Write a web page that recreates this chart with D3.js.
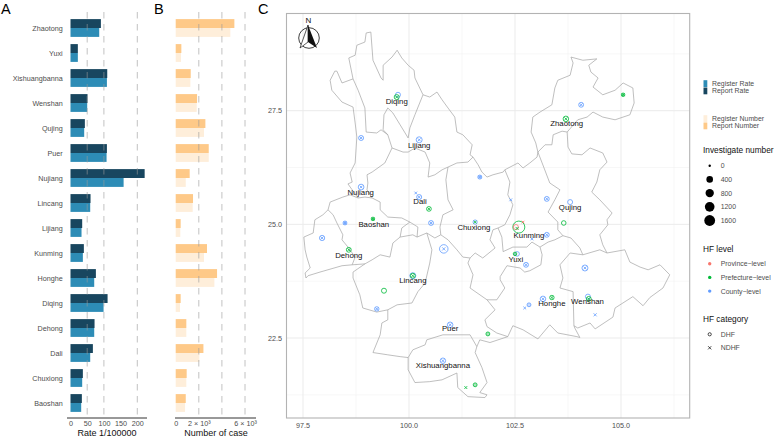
<!DOCTYPE html>
<html><head><meta charset="utf-8">
<script src="https://cdn.jsdelivr.net/npm/d3@7"></script>
<style>
html,body{margin:0;padding:0;background:#fff}
svg{display:block}
text{font-family:"Liberation Sans",Arial,sans-serif}
</style></head><body><svg id="c" width="777" height="440"></svg>
<script>
// ---------- bars ----------
const categories=["Zhaotong","Yuxi","Xishuangbanna","Wenshan","Qujing","Puer","Nujiang","Lincang","Lijiang","Kunming","Honghe","Diqing","Dehong","Dali","Chuxiong","Baoshan"];
const reportRate=[91,22,110,51,43,109,222,60,35,40,76,111,72,67,37,34];
const registerRate=[86,22,109,50,41,108,159,59,33,37,71,99,71,59,35,32];
const reportNumber=[5080,490,1300,1850,2570,2860,1210,1500,430,2710,3580,430,920,2400,950,870];
const registerNumber=[4730,460,1270,1820,2450,2860,870,1470,400,2450,3350,375,920,2050,920,810];
const rateTicks=[0,50,100,150,200];
const rateGuides=[50,100,200];
const numberTicks=[0,2000,6000];
const numberGuides=[2000,4000,6000];
// ---------- map graticule ----------
const lonMajor=[97.5,100,102.5,105];
const lonMinor=[98.75,101.25,103.75,106.25];
const latMajor=[27.5,25,22.5];
const latMinor=[28.75,26.25,23.75,21.25];
// ---------- map boundaries, [lon,lat] ----------
const bNorth=[[98.14,28.17],[98.25,28.37],[98.30,28.37],[98.42,28.11],[98.68,28.20],[98.58,28.66],[98.73,28.72],[98.77,28.94],[98.96,29.01],[98.99,29.21],[99.10,29.23],[99.15,28.61],[99.34,28.22],[99.39,28.17],[99.39,28.50],[99.60,28.68],[99.72,28.83],[99.83,28.66],[99.98,28.50],[100.12,28.39],[100.14,28.22],[100.33,27.85],[100.49,27.80],[100.66,27.91],[100.78,27.74],[100.92,27.56],[101.08,27.36],[101.13,27.03],[101.27,26.97],[101.49,26.75],[101.44,26.53],[101.51,26.48],[101.63,26.31],[101.72,26.15],[101.84,26.04],[101.98,26.09],[102.22,26.15],[102.26,26.20],[102.57,26.35],[102.69,26.24],[102.85,26.35],[103.02,26.48],[103.04,26.59]];
const bZhaotong=[[103.04,26.59],[102.99,26.79],[102.88,27.03],[102.92,27.36],[103.09,27.47],[103.37,27.63],[103.44,28.00],[103.51,28.17],[103.80,28.28],[103.87,28.55],[103.82,28.68],[104.10,28.61],[104.43,28.64],[104.24,28.50],[104.29,28.35],[104.46,28.22],[104.34,28.02],[104.57,27.85],[104.86,27.95],[105.05,28.11],[105.28,28.00],[105.31,27.67],[105.21,27.41],[104.86,27.30],[104.57,27.36],[104.34,27.47],[104.20,27.36],[103.98,27.30],[103.73,27.03],[103.75,26.70],[103.84,26.55],[104.08,26.53],[104.27,26.68],[104.57,26.57],[104.67,26.37],[104.50,26.20],[104.43,25.93],[104.31,25.71],[104.50,25.54],[104.79,25.25],[104.67,25.10],[104.69,24.99],[104.50,24.77],[104.57,24.55],[104.67,24.37]];
const bZhaotongQujing=[[103.04,26.59],[103.21,26.75],[103.37,26.75],[103.40,26.97],[103.61,27.05],[103.73,27.03]];
const bWenshan=[[103.56,24.11],[103.80,24.37],[104.10,24.33],[104.50,24.44],[104.67,24.37],[105.09,24.44],[105.21,24.17],[105.45,24.06],[105.64,24.00],[105.92,24.11],[106.15,23.89],[105.99,23.60],[105.68,23.39],[105.52,23.21],[105.28,23.41],[104.86,23.16],[104.81,22.96],[104.39,22.70],[104.27,22.83],[103.98,22.72],[103.89,22.77],[103.87,23.52],[103.56,23.60],[103.63,23.82],[103.56,24.11]];
const bQujingWest=[[103.04,26.59],[103.14,26.35],[103.32,25.91],[103.56,25.76],[103.44,25.54],[103.28,25.27],[103.51,25.05],[103.51,24.88],[103.63,24.75],[103.82,24.70],[104.03,24.48],[104.10,24.33]];
const bKunmingSouth=[[102.10,24.92],[102.19,24.72],[102.22,24.40],[102.45,24.50],[102.78,24.50],[102.90,24.61],[103.09,24.50],[103.28,24.61],[103.44,24.66],[103.63,24.75]];
const bChuxiongEast=[[102.26,26.20],[102.38,25.93],[102.33,25.65],[102.45,25.43],[102.38,25.21],[102.26,24.99],[102.10,24.92]];
const bChuxiongYuxi=[[102.10,24.92],[101.98,24.88],[101.91,24.66],[102.03,24.48],[101.74,24.26],[101.56,24.37],[101.44,24.26]];
const bChuxiongWest=[[100.92,26.26],[100.87,25.98],[100.92,25.54],[101.04,25.32],[100.80,25.21],[100.73,24.94],[100.75,24.77]];
const bDaliSouth=[[100.02,25.05],[100.21,24.94],[100.19,24.72],[100.42,24.81],[100.61,24.70],[100.75,24.77],[100.92,24.66],[101.13,24.44],[101.27,24.28],[101.44,24.26]];
const bBaoshanSouth=[[100.02,25.05],[99.83,24.92],[99.79,24.72],[99.62,24.59],[99.55,24.28],[99.32,24.33],[99.13,24.22],[98.96,24.13],[98.66,24.11],[98.42,24.09],[97.90,23.95],[97.62,23.87],[97.57,23.82],[97.55,23.93],[97.67,24.04],[97.59,24.28],[97.55,24.44],[97.52,24.72],[97.74,24.81],[97.78,25.10],[97.97,25.21],[98.09,25.32]];
const bDehongEast=[[98.09,25.32],[98.21,25.21],[98.30,25.03],[98.44,24.77],[98.42,24.66],[98.56,24.50],[98.73,24.28],[98.66,24.11]];
const bBaoshanNorth=[[98.09,25.32],[98.14,25.49],[98.44,25.60],[98.61,25.65],[98.80,25.58],[98.96,25.60],[99.13,25.58],[99.32,25.49],[99.32,25.32],[99.50,25.16],[99.83,25.14],[100.02,25.05]];
const bLincangTop=[[99.79,24.72],[100.09,24.77],[100.19,24.72]];
const bLincangRest=[[100.42,24.81],[100.54,24.44],[100.49,24.15],[100.38,23.71],[100.21,23.52],[100.07,23.27],[99.72,23.23],[99.50,23.12],[99.24,23.07],[98.91,23.16],[98.84,23.45],[98.68,23.82],[98.68,23.95],[98.96,24.13]];
const bNujiangWest=[[98.14,28.17],[98.18,27.95],[98.42,27.69],[98.68,27.58],[98.73,27.23],[98.77,26.92],[98.73,26.35],[98.61,26.13],[98.66,25.93],[98.56,25.89],[98.66,25.76],[98.80,25.58]];
const bNujiangEast=[[99.60,26.68],[99.43,26.35],[99.13,26.15],[99.01,26.09],[99.03,25.91],[99.01,25.76],[99.13,25.58]];
const bDiqingWest=[[98.68,28.20],[98.80,27.95],[98.96,27.56],[98.99,27.03],[99.24,27.01],[99.34,27.08],[99.50,26.97],[99.60,26.68]];
const bLijiangWest=[[100.33,27.85],[100.14,27.41],[100.02,27.12],[99.98,26.90],[99.79,27.19],[99.62,27.45],[99.50,27.56],[99.41,27.41],[99.39,27.08],[99.50,26.97]];
const bDaliNorth=[[99.60,26.68],[99.86,26.59],[99.98,26.59],[100.14,26.68],[100.38,26.59],[100.49,26.35],[100.45,26.04],[100.61,26.09],[100.78,26.20],[100.92,26.26],[101.13,26.35],[101.39,26.37],[101.51,26.48]];
const bYuxiSouth=[[101.44,24.26],[101.39,24.15],[101.51,23.89],[101.44,23.60],[101.84,23.34],[102.07,23.34],[102.26,23.60],[102.15,23.78],[102.15,23.85],[102.31,24.09],[102.62,24.04],[102.73,23.95],[102.85,23.98],[103.11,24.11],[103.14,24.33],[103.09,24.50]];
const bHongheSouth=[[101.84,23.34],[102.03,23.12],[101.79,22.90],[101.84,22.75],[102.07,22.61],[102.33,22.53],[102.45,22.77],[102.69,22.68],[103.04,22.48],[103.32,22.79],[103.51,22.61],[103.96,22.53],[104.03,22.51],[103.91,22.72],[103.89,22.77]];
const bBanna=[[102.33,22.53],[101.91,22.40],[101.67,22.46],[101.60,22.31],[101.44,22.57],[100.80,22.57],[100.42,22.46],[100.38,22.35],[100.09,22.24],[99.98,22.07],[99.98,21.80],[100.14,21.52],[100.49,21.54],[100.78,21.58],[101.13,21.73],[101.15,21.41],[101.39,21.21],[101.79,21.19],[101.84,21.25],[101.67,21.30],[101.84,21.52],[101.72,21.85],[101.56,22.18],[101.60,22.31]];
const bPuerWest=[[99.50,23.12],[99.50,22.90],[99.36,22.83],[99.32,22.57],[99.15,22.18],[99.50,22.13],[99.79,22.09],[99.98,22.07]];
const boundaries=[bNorth,bZhaotong,bZhaotongQujing,bWenshan,bQujingWest,bKunmingSouth,bChuxiongEast,bChuxiongYuxi,bChuxiongWest,bDaliSouth,bBaoshanSouth,bDehongEast,bBaoshanNorth,bLincangTop,bLincangRest,bNujiangWest,bNujiangEast,bDiqingWest,bLijiangWest,bDaliNorth,bYuxiSouth,bHongheSouth,bBanna,bPuerWest];
// ---------- city labels ----------
const cityNames=["Diqing","Lijiang","Nujiang","Dali","Baoshan","Dehong","Lincang","Chuxiong","Kunming","Yuxi","Qujing","Zhaotong","Honghe","Wenshan","Puer","Xishuangbanna"];
const cityLon=[99.71,100.24,98.86,100.26,99.17,98.58,100.09,101.53,102.83,102.52,103.80,103.72,103.37,104.21,100.97,100.80];
const cityLat=[27.71,26.75,25.71,25.50,25.01,24.33,23.78,24.94,24.77,24.24,25.38,27.23,23.26,23.30,22.72,21.91];
// ---------- hospitals: lon, lat, investigate number, level, category ----------
const P="Province",F="Prefecture",C="County";
const sites=[
[99.74,27.85,80,C,"DHF"],[99.71,27.80,80,F,"DHF"],[99.71,27.80,10,F,"NDHF"],
[98.87,26.90,80,C,"DHF"],[98.87,26.90,20,C,"NDHF"],
[100.24,26.86,180,C,"DHF"],[100.24,26.86,20,C,"NDHF"],
[101.67,26.04,20,C,"DHF"],[101.67,26.04,5,C,"NDHF"],
[98.87,25.82,150,C,"DHF"],[98.87,25.82,10,C,"NDHF"],
[100.16,25.69,10,C,"NDHF"],[100.24,25.60,80,C,"DHF"],[100.24,25.60,10,C,"NDHF"],
[100.47,25.34,60,F,"DHF"],[100.47,25.34,10,F,"NDHF"],
[102.40,25.54,15,C,"NDHF"],[99.15,25.12,5,F,"DHF"],[99.15,25.12,10,F,"NDHF"],
[98.49,25.03,15,C,"DHF"],[98.49,25.03,5,C,"NDHF"],
[100.52,25.03,70,C,"DHF"],[100.52,25.03,25,C,"NDHF"],
[97.95,24.70,100,C,"DHF"],[97.95,24.70,30,C,"NDHF"],
[98.58,24.44,70,F,"DHF"],[98.58,24.44,10,F,"NDHF"],
[100.82,24.46,600,C,"DHF"],[100.82,24.46,40,C,"NDHF"],
[100.09,23.87,180,C,"DHF"],[100.09,23.87,70,F,"DHF"],[100.09,23.87,20,F,"NDHF"],
[99.41,23.54,80,F,"DHF"],[99.24,23.14,40,C,"DHF"],[99.24,23.14,20,C,"NDHF"],
[100.97,22.79,130,C,"DHF"],[100.97,22.79,20,C,"NDHF"],
[101.86,22.59,15,F,"DHF"],[100.80,22.00,120,C,"DHF"],[100.80,22.00,20,C,"NDHF"],
[101.56,21.47,15,F,"DHF"],[101.34,21.41,20,F,"NDHF"],
[101.56,25.05,30,C,"DHF"],[101.56,25.05,10,F,"NDHF"],
[102.59,24.94,1600,F,"DHF"],[102.52,24.94,90,P,"DHF"],[102.55,24.91,20,F,"NDHF"],[102.69,25.05,10,P,"NDHF"],
[103.25,25.56,70,C,"DHF"],[103.25,25.56,20,C,"NDHF"],[103.80,25.49,80,C,"DHF"],
[103.65,25.03,50,F,"DHF"],[103.25,24.77,70,C,"DHF"],[103.25,24.77,25,C,"NDHF"],[102.90,24.68,15,C,"NDHF"],
[102.55,24.35,50,C,"DHF"],[102.50,24.35,5,F,"DHF"],[102.76,24.11,70,C,"DHF"],[102.76,24.11,25,C,"NDHF"],
[104.15,24.04,180,C,"DHF"],[104.15,24.04,30,C,"NDHF"],[104.06,27.63,70,C,"DHF"],[104.06,27.63,25,C,"NDHF"],
[103.70,27.32,130,F,"DHF"],[103.70,27.32,30,F,"NDHF"],[105.05,27.85,5,F,"DHF"],[105.05,27.85,10,F,"NDHF"],
[103.16,23.36,130,C,"DHF"],[103.16,23.36,30,C,"NDHF"],[103.37,23.39,40,F,"DHF"],[103.37,23.39,15,F,"NDHF"],
[102.83,23.23,15,C,"DHF"],[102.73,23.16,15,C,"NDHF"],[104.22,23.41,80,C,"DHF"],
[104.24,23.36,70,F,"DHF"],[104.24,23.36,15,F,"NDHF"],[104.39,23.01,30,C,"NDHF"]
];
// ---------- legend ----------
const sizeBreaks=[0,400,800,1200,1600];
const levelNames=["Province\u2212level","Prefecture\u2212level","County\u2212level"];
const categoryNames=["DHF","NDHF"];

// ---------- drawing ----------
const svg=d3.select("#c");
const DARK="#18465f",BLUE="#2d8cb6",ORANGE="#fec988",CREAM="#feeeda",GUIDE="#9a9a9a",TXT="#4d4d4d";
const levelColor=d3.scaleOrdinal().domain([P,F,C]).range(["#F8766D","#00BA38","#619CFF"]);
const rScale=d3.scaleSqrt().domain([0,1600]).range([1.5,6]);

const yBand=d3.scalePoint().domain(categories).range([28,403]);
const barH=8.9;

function barPanel(x,top,bottom,c1,c2,ticks,guides,fmt,axisRange,title,titleX,showCats){
  const g=svg.append("g");
  categories.forEach((cat,i)=>{
    g.append("rect").attr("x",x(0)).attr("y",yBand(cat)-barH).attr("width",x(top[i])-x(0)).attr("height",barH).attr("fill",c1);
    g.append("rect").attr("x",x(0)).attr("y",yBand(cat)).attr("width",x(bottom[i])-x(0)).attr("height",barH).attr("fill",c2);
  });
  guides.forEach(v=>g.append("line").attr("x1",x(v)).attr("x2",x(v)).attr("y1",12).attr("y2",418)
    .attr("stroke",GUIDE).attr("stroke-opacity",.6).attr("stroke-width",1).attr("stroke-dasharray","6.5 5.5"));
  const ax=g.append("g").attr("transform","translate(0,418)").call(d3.axisBottom(x).tickValues(ticks).tickSize(0).tickPadding(3).tickFormat(fmt));
  ax.select(".domain").remove();
  g.append("line").attr("x1",axisRange[0]).attr("x2",axisRange[1]).attr("y1",418).attr("y2",418).attr("stroke","#333").attr("stroke-width",1);
  ax.selectAll("text").attr("fill",TXT).style("font-size","7.2px");
  g.append("text").attr("x",titleX).attr("y",436).attr("text-anchor","middle").style("font-size","9px").attr("fill","#111").text(title);
  if(showCats) categories.forEach(cat=>g.append("text").attr("x",62.7).attr("y",yBand(cat)+2.6).attr("text-anchor","end").style("font-size","7.2px").attr("fill",TXT).text(cat));
}
const xRate=d3.scaleLinear().domain([0,200]).range([70.5,137.3]);
const xNum=d3.scaleLinear().domain([0,6000]).range([175.7,245]);
barPanel(xRate,reportRate,registerRate,DARK,BLUE,rateTicks,rateGuides,d=>d,[67,147],"Rate 1/100000",107,true);
barPanel(xNum,reportNumber,registerNumber,ORANGE,CREAM,numberTicks,numberGuides,d=>d===0?"0":(d/1000)+" \u00d7 10\u00b3",[175,256],"Number of case",216,false);

[["A",1],["B",154],["C",258]].forEach(([t,x])=>svg.append("text").attr("x",x).attr("y",14).style("font-size","14.5px").attr("fill","#000").text(t));

// map panel
const lon=d3.scaleLinear().domain([97.5,105]).range([303,621]);
const lat=d3.scaleLinear().domain([27.5,22.5]).range([110.7,338]);
const L=286.5,R=689.7,T=13.5,B=418;
const map=svg.append("g");
lonMinor.forEach(v=>map.append("line").attr("x1",lon(v)).attr("x2",lon(v)).attr("y1",T).attr("y2",B).attr("stroke","#f2f2f2").attr("stroke-width",.6));
latMinor.forEach(v=>map.append("line").attr("y1",lat(v)).attr("y2",lat(v)).attr("x1",L).attr("x2",R).attr("stroke","#f2f2f2").attr("stroke-width",.6));
lonMajor.forEach(v=>map.append("line").attr("x1",lon(v)).attr("x2",lon(v)).attr("y1",T).attr("y2",B).attr("stroke","#ebebeb").attr("stroke-width",1));
latMajor.forEach(v=>map.append("line").attr("y1",lat(v)).attr("y2",lat(v)).attr("x1",L).attr("x2",R).attr("stroke","#ebebeb").attr("stroke-width",1));
const geoLine=d3.line().x(d=>lon(d[0])).y(d=>lat(d[1])).curve(d3.curveLinear);
map.selectAll("path.b").data(boundaries).join("path").attr("class","b").attr("d",geoLine).attr("fill","none").attr("stroke","#a3a3a3").attr("stroke-width",.7).attr("stroke-linejoin","round");

function crossPath(r){return `M${-r},${-r}L${r},${r}M${-r},${r}L${r},${-r}`;}
sites.forEach(s=>{
  const c=levelColor(s[3]),g=map.append("g").attr("transform",`translate(${lon(s[0])},${lat(s[1])})`);
  if(s[4]==="DHF") g.append("circle").attr("r",rScale(s[2])).attr("fill",s[2]<25?c:"none").attr("fill-opacity",.35).attr("stroke",c).attr("stroke-width",.8);
  else g.append("path").attr("d",crossPath(rScale(s[2])*.72)).attr("stroke",c).attr("stroke-width",.8).attr("fill","none");
});
cityNames.forEach((n,i)=>map.append("text").attr("x",lon(cityLon[i])).attr("y",lat(cityLat[i])+2.8).attr("text-anchor","middle").style("font-size","7.8px").attr("fill","#111").text(n));
map.append("rect").attr("x",L).attr("y",T).attr("width",R-L).attr("height",B-T).attr("fill","none").attr("stroke","#b3b3b3").attr("stroke-width",1.1);
lonMajor.forEach(v=>map.append("text").attr("x",lon(v)).attr("y",427.5).attr("text-anchor","middle").style("font-size","7.2px").attr("fill",TXT).text(v.toFixed(1)));
latMajor.forEach(v=>map.append("text").attr("x",282).attr("y",lat(v)+2.6).attr("text-anchor","end").style("font-size","7.2px").attr("fill",TXT).text(v.toFixed(1)));

// north arrow
const na=svg.append("g").attr("transform","translate(309,38)");
na.append("circle").attr("r",10.3).attr("fill","none").attr("stroke","#111").attr("stroke-width",.8);
na.append("path").attr("d","M-1,-13L-9,10L-1,4Z").attr("fill","#fff").attr("stroke","#111").attr("stroke-width",.7);
na.append("path").attr("d","M-1,-13L8,10L-1,4Z").attr("fill","#111");
svg.append("text").attr("x",308.5).attr("y",23).attr("text-anchor","middle").style("font-size","8px").attr("fill","#111").text("N");

// legends
const lg=svg.append("g");
function swatch(y,c,t){
  lg.append("rect").attr("x",703.5).attr("y",y-3.4).attr("width",3.8).attr("height",6.8).attr("fill",c);
  lg.append("text").attr("x",712).attr("y",y+2.4).style("font-size","6.9px").attr("fill",TXT).text(t);
}
swatch(83.6,BLUE,"Register Rate");swatch(90.9,DARK,"Report Rate");
swatch(118.6,CREAM,"Register Number");swatch(125.9,ORANGE,"Report Number");
function head(y,t){lg.append("text").attr("x",703).attr("y",y+3).style("font-size","8.3px").attr("fill","#111").text(t);}
function rowText(y,t){lg.append("text").attr("x",720.7).attr("y",y+2.5).style("font-size","6.9px").attr("fill",TXT).text(t);}
head(150,"Investigate number");
const legendR=d3.scaleSqrt().domain([0,1600]).range([1.2,5.4]);
sizeBreaks.forEach((v,i)=>{const y=165.7+i*13.7;lg.append("circle").attr("cx",709.7).attr("cy",y).attr("r",legendR(v)).attr("fill","#000");rowText(y,v);});
head(248.7,"HF level");
[P,F,C].forEach((k,i)=>{const y=263.7+i*13.7;lg.append("circle").attr("cx",709.7).attr("cy",y).attr("r",1.7).attr("fill",levelColor(k));rowText(y,levelNames[i]);});
head(319,"HF category");
categoryNames.forEach((k,i)=>{const y=334.3+i*13.5;
  if(k==="DHF")lg.append("circle").attr("cx",709.7).attr("cy",y).attr("r",1.6).attr("fill","none").attr("stroke","#000").attr("stroke-width",.7);
  else lg.append("path").attr("transform",`translate(709.7,${y})`).attr("d",crossPath(1.6)).attr("stroke","#000").attr("stroke-width",.7);
  rowText(y,k);});
</script></body></html>
